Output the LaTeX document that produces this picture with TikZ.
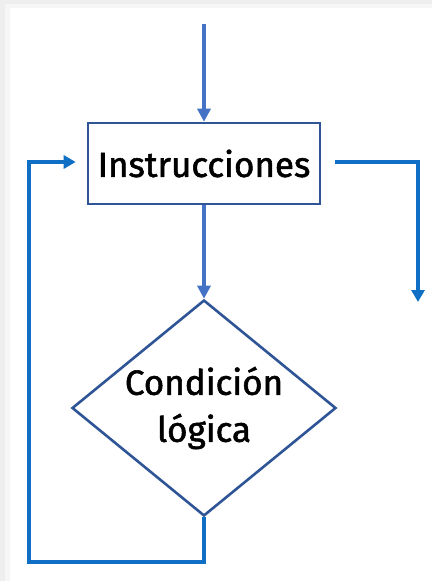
\documentclass[tikz,border=0pt]{standalone}
\usepackage{fontspec}
\setmainfont{Fira Sans}[FakeBold=1.6]
\usetikzlibrary{shapes.geometric,arrows.meta}
\definecolor{arrblue}{HTML}{4472C4}
\definecolor{loopblue}{HTML}{0E6FC4}
\definecolor{shapeblue}{HTML}{2F5597}
\definecolor{shadow}{HTML}{EEEEEE}
\definecolor{shadowb}{HTML}{F6F6F6}
\tikzset{
  procbox/.style={draw=shapeblue, line width=2.6pt, fill=white, minimum width=232pt, minimum height=81pt, inner sep=0pt, font=\fontsize{35}{47}\selectfont},
  decision/.style={diamond, draw=shapeblue, line width=2.6pt, fill=white, minimum width=264pt, minimum height=216pt, shape aspect=1.22, inner sep=0pt, align=center, font=\fontsize{35}{47}\selectfont},
  flowarr/.style={draw=arrblue, line width=3.5pt, -{Triangle[length=13pt,width=13pt]}},
  loopline/.style={draw=loopblue, line width=3.3pt},
  looparr/.style={loopline, -{Triangle[length=12pt,width=13pt]}}
}
\begin{document}
\begin{tikzpicture}[x=1pt,y=-1pt]
\useasboundingbox (0,0) rectangle (432,581);
\fill[shadow] (0,0) rectangle (432,581);
\fill[shadowb] (5,4) rectangle (432,581);
\fill[white] (10,8) rectangle (432,581);
\node[procbox] (box) at (204,163.5) {Instrucciones};
\node[decision] (dia) at (204,408) {Condición\\lógica};
\coordinate (top) at (204,24);
\coordinate (loopL) at (29,562);
\coordinate (exitEnd) at (418,302);
\draw[flowarr] (top) -- (box.north);
\draw[flowarr] (box.south) -- (dia.north);
\draw[looparr, shorten >=11pt] (dia.south) |- (loopL) |- ([yshift=1.5pt]box.west);
\draw[looparr] ([xshift=14pt,yshift=1.5pt]box.east) -| (exitEnd);
\end{tikzpicture}
\end{document}
